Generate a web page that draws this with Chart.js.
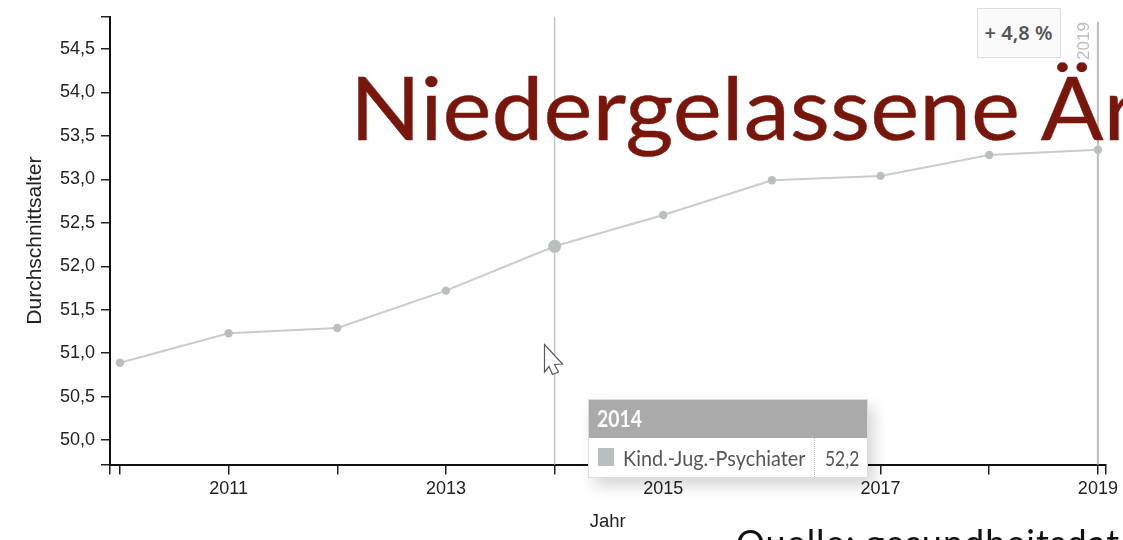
<!DOCTYPE html>
<html lang="de">
<head>
<meta charset="utf-8">
<script src="https://cdn.jsdelivr.net/npm/chart.js@4"></script>
<style>
html,body{margin:0;padding:0;background:#fff;}
#wrap{position:relative;width:1123px;height:540px;overflow:hidden;background:#fff;}
canvas{position:absolute;left:0;top:0;}
.t{position:absolute;white-space:nowrap;}
#title{left:350px;top:50px;font:400 88px/112px Lato,sans-serif;color:#78160c;transform:scaleX(1.055);transform-origin:0 0;-webkit-text-stroke:.4px #78160c;}
#source{left:736px;top:522px;font:400 36px/40px Lato,sans-serif;letter-spacing:1px;color:#111;}
#delta{left:976.5px;top:7.5px;width:82px;height:48px;box-sizing:content-box;background:#fafafa;border:1.5px solid #dedede;text-align:center;font:600 20px/47px "Noto Sans",sans-serif;color:#555;}
#y19{left:1084px;top:41px;transform:translate(-50%,-50%) rotate(-90deg);font:400 17px/18px "Liberation Sans",sans-serif;color:#bcbcbc;}
#tip{position:absolute;left:588px;top:398.5px;width:280px;height:79.5px;background:#fff;border:1px solid #ddd;box-sizing:border-box;box-shadow:6px 8px 14px rgba(0,0,0,.16);}
#tipH{position:absolute;left:0;top:0;right:0;height:38px;background:#aaa;}
#tipT{left:8px;top:0;font:700 22px/38px Lato,sans-serif;color:#fff;transform:scaleX(.88);transform-origin:0 0;}
#sw{position:absolute;left:9px;top:48px;width:16px;height:18px;background:#b9bfbf;}
#tipN{left:34px;top:44px;font:400 21px/28px Lato,sans-serif;color:#555;transform:scaleX(.945);transform-origin:0 0;}
#sep{position:absolute;left:225px;top:38px;bottom:0;border-left:1px dotted #bbb;}
#tipV{left:236px;top:44px;font:400 21px/28px Lato,sans-serif;color:#555;transform:scaleX(.83);transform-origin:0 0;}
#cursor{position:absolute;left:0;top:0;pointer-events:none;}
</style>
</head>
<body>
<div id="wrap">
<canvas id="c" width="1123" height="540"></canvas>
<svg id="cursor" width="1123" height="540"><path d="M544.5 344.5L562.5 364L554.5 364.5L558.5 372L552.5 374.5L549 366.5L544.5 372Z" fill="#fff" stroke="#555a62" stroke-width="1.2"/></svg>
<div class="t" id="title">Niedergelassene Är</div>
<div class="t" id="source">Quelle: gesundheitsdat</div>
<div class="t" id="delta">+ 4,8 %</div>
<div class="t" id="y19">2019</div>
<div id="tip"><div id="tipH"><div class="t" id="tipT">2014</div></div><div id="sw"></div><div class="t" id="tipN">Kind.-Jug.-Psychiater</div><div id="sep"></div><div class="t" id="tipV">52,2</div></div>
</div>
<script>
const years = [2010,2011,2012,2013,2014,2015,2016,2017,2018,2019];
const averageAge = [50.89,51.23,51.29,51.72,52.23,52.59,52.99,53.04,53.28,53.34];
const seriesName = "Kind.-Jug.-Psychiater";
const highlightYear = 2014;
const markerYear = 2019;
const yAxisTitle = "Durchschnittsalter";
const xAxisTitle = "Jahr";
const xMin = 2009.908, xMax = 2019.07;
const points = years.map((y,i)=>({x:y,y:averageAge[i]}));

const refLines = {
  id:'refLines',
  beforeDatasetsDraw(ch){
    const g=ch.ctx, xs=ch.scales.x, a=ch.chartArea;
    g.save();
    g.strokeStyle='#c6c6c6'; g.lineWidth=1.5;
    let px=xs.getPixelForValue(highlightYear);
    g.beginPath(); g.moveTo(px,a.top); g.lineTo(px,a.bottom); g.stroke();
    g.strokeStyle='#bdbdbd'; g.lineWidth=2;
    px=xs.getPixelForValue(markerYear);
    g.beginPath(); g.moveTo(px,22); g.lineTo(px,a.bottom); g.stroke();
    g.restore();
  }
};

new Chart(document.getElementById('c'),{
  type:'line',
  data:{datasets:[{
    label:seriesName,
    data:points,
    borderColor:'#c8cccb',
    borderWidth:2,
    backgroundColor:'#b9bfbf',
    pointBackgroundColor:'#b9bfbf',
    pointBorderWidth:0,
    pointRadius:c=>years[c.dataIndex]===highlightYear?6.5:4.2,
    tension:0,
    clip:false
  }]},
  options:{
    responsive:false,
    animation:false,
    events:[],
    layout:{padding:{left:0,right:17.5,top:16,bottom:0}},
    plugins:{legend:{display:false},tooltip:{enabled:false}},
    scales:{
      x:{
        type:'linear',
        min:xMin,max:xMax,
        afterBuildTicks(s){s.ticks=[xMin,...years,xMax].map(value=>({value}));},
        afterFit(s){s.height=75.5;},
        border:{color:'#111',width:2},
        grid:{drawOnChartArea:false,color:'#222',lineWidth:1.5,tickLength:10},
        ticks:{
          autoSkip:false,maxRotation:0,padding:4,
          color:'#222',font:{family:'"Liberation Sans"',size:18},
          callback:v=>(Number.isInteger(v)&&v%2===1)?String(v):''
        },
        title:{display:true,text:xAxisTitle,color:'#222',font:{family:'"Liberation Sans"',size:18.5},padding:{top:-3,bottom:7}}
      },
      y:{
        type:'linear',
        min:49.72,max:54.87,
        afterFit(s){s.width=110;},
        border:{color:'#111',width:2},
        grid:{drawOnChartArea:false,color:'#222',lineWidth:1.5,tickLength:9},
        ticks:{
          stepSize:0.5,padding:6,
          color:'#222',font:{family:'"Liberation Sans"',size:18},
          callback:v=>(Number.isInteger(v*2))?v.toFixed(1).replace('.',','):''
        },
        title:{display:true,text:yAxisTitle,color:'#222',font:{family:'"Liberation Sans"',size:21},padding:{top:23,bottom:0}}
      }
    }
  },
  plugins:[refLines]
});
</script>
</body>
</html>
